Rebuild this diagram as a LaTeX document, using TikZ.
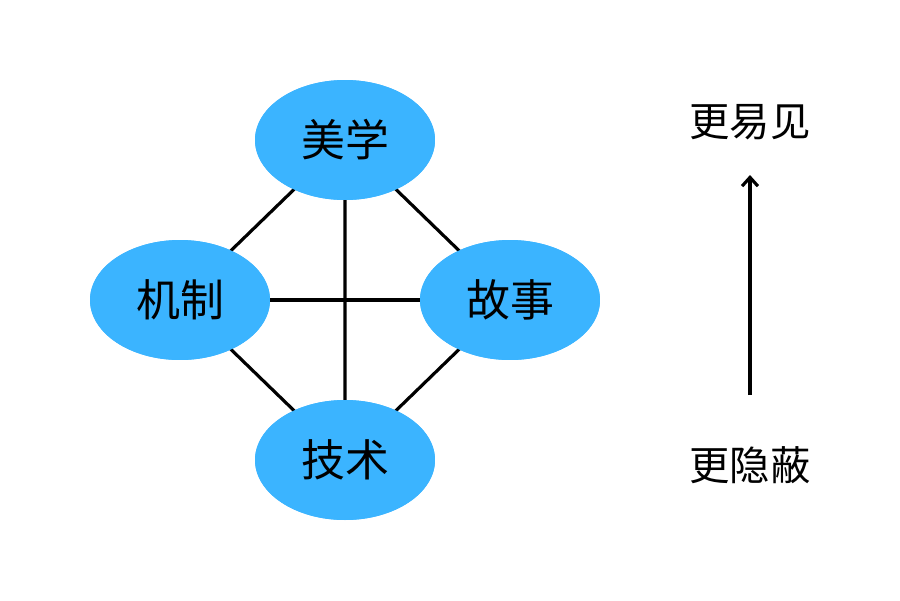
\documentclass[tikz,border=0pt]{standalone}
\usepackage{fontspec}
\newfontfamily\cjk{Noto Sans CJK SC}
\usetikzlibrary{shapes.geometric,arrows.meta}
\definecolor{blob}{HTML}{3BB4FF}
\begin{document}
\begin{tikzpicture}[x=0.02cm,y=-0.02cm,
  blobnode/.style={ellipse,fill=blob,minimum width=3.6cm,minimum height=2.4cm,inner sep=0pt,font=\cjk\fontsize{25}{25}\selectfont},
  link/.style={line width=1.8pt,black},
  side/.style={font=\cjk\fontsize{23}{23}\selectfont}]
\useasboundingbox[fill=white] (0,0) rectangle (900,600);
\node[blobnode] (a) at (345,140) {美学};
\node[blobnode] (m) at (180,300) {机制};
\node[blobnode] (s) at (510,300) {故事};
\node[blobnode] (t) at (345,460) {技术};
\begin{scope}[on background layer/.try]
\end{scope}
\draw[link] (a.center) -- (m.center) -- (t.center) -- (s.center) -- (a.center) -- (t.center);
\draw[link] (m.center) -- (s.center);
\node[blobnode] at (345,140) {美学};
\node[blobnode] at (180,300) {机制};
\node[blobnode] at (510,300) {故事};
\node[blobnode] at (345,460) {技术};
\node[side] (top) at (750,122) {更易见};
\node[side] (bot) at (750,465) {更隐蔽};
\draw[link,-{Straight Barb[length=5pt,width=9pt]}] (bot.north) ++(0,-45) coordinate (ab) (ab) -- (750,175) coordinate (at);
\end{tikzpicture}
\end{document}
